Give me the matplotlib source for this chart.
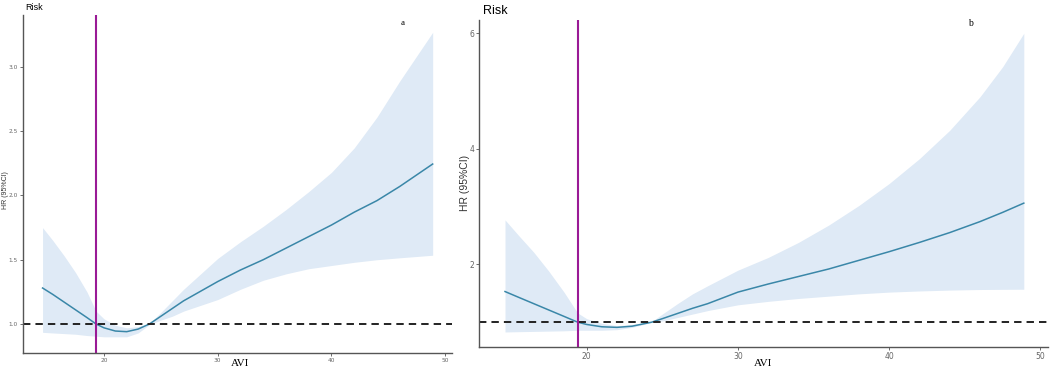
import matplotlib
matplotlib.use("Agg")
import matplotlib.pyplot as plt

# ---------------- data ----------------
avi_a = [14.6, 15.5, 16.5, 17.5, 18.5, 19.3, 20, 21, 22, 23, 24, 25, 26, 27, 28,
         30, 32, 34, 36, 38, 40, 42, 44, 46, 48.9]
hr_a = [1.28, 1.23, 1.17, 1.11, 1.05, 1.00, 0.97, 0.945, 0.94, 0.96, 1.00, 1.06, 1.12,
        1.18, 1.23, 1.33, 1.42, 1.50, 1.59, 1.68, 1.77, 1.87, 1.96, 2.07, 2.245]
upper_a = [1.75, 1.65, 1.53, 1.40, 1.25, 1.10, 1.04, 0.99, 0.97, 0.98, 1.005, 1.09, 1.18,
           1.27, 1.35, 1.51, 1.64, 1.76, 1.89, 2.03, 2.18, 2.37, 2.61, 2.89, 3.27]
lower_a = [0.935, 0.93, 0.925, 0.92, 0.91, 0.905, 0.90, 0.90, 0.90, 0.93, 0.995, 1.03,
           1.06, 1.10, 1.13, 1.19, 1.27, 1.34, 1.39, 1.43, 1.455, 1.48, 1.50, 1.515, 1.535]

avi_b = [14.6, 15.5, 16.5, 17.5, 18.5, 19.4, 20, 21, 22, 23, 24.3, 25, 26, 27, 28,
         30, 32, 34, 36, 38, 40, 42, 44, 46, 47.5, 48.9]
hr_b = [1.53, 1.43, 1.32, 1.21, 1.10, 1.00, 0.96, 0.92, 0.91, 0.93, 1.00, 1.06, 1.15,
        1.24, 1.32, 1.52, 1.66, 1.79, 1.92, 2.07, 2.22, 2.38, 2.55, 2.74, 2.90, 3.06]
upper_b = [2.77, 2.50, 2.21, 1.88, 1.52, 1.16, 1.06, 0.98, 0.94, 0.96, 1.01, 1.14, 1.32,
           1.49, 1.63, 1.90, 2.12, 2.38, 2.68, 3.02, 3.40, 3.83, 4.32, 4.90, 5.42, 6.00]
lower_b = [0.83, 0.835, 0.84, 0.845, 0.85, 0.86, 0.86, 0.86, 0.87, 0.91, 0.995, 1.02,
           1.08, 1.14, 1.20, 1.30, 1.36, 1.41, 1.45, 1.49, 1.52, 1.54, 1.555, 1.565,
           1.568, 1.57]

cutoff_a = 19.3
cutoff_b = 19.4
ref_hr = 1.0

xticks = [20, 30, 40, 50]
yticks_a = [1.0, 1.5, 2.0, 2.5, 3.0]
yticks_b = [2, 4, 6]

# ---------------- styling ----------------
W, H = 1053, 370
fig = plt.figure(figsize=(W / 100, H / 100), dpi=100)
fig.patch.set_facecolor("white")

band_col = "#dfeaf6"
line_col = "#3a87a8"
purple = "#9a1a96"
spine_col = "#555555"


def px_axes(l, r, t, b):
    return [l / W, 1 - b / H, (r - l) / W, (b - t) / H]


def style(ax, ticksize, xt, yt):
    for s in ["top", "right"]:
        ax.spines[s].set_visible(False)
    for s in ["left", "bottom"]:
        ax.spines[s].set_color(spine_col)
        ax.spines[s].set_linewidth(1.0)
    ax.set_xticks(xt)
    ax.set_yticks(yt)
    ax.tick_params(axis="both", labelsize=ticksize, colors="#555555",
                   length=2, width=0.6, pad=1.5, labelcolor="#666666")


# Panel a
ax1 = fig.add_axes(px_axes(23, 452, 15, 353))
ax1.fill_between(avi_a, lower_a, upper_a, color=band_col, linewidth=0)
ax1.plot(avi_a, hr_a, color=line_col, lw=1.1)
ax1.axhline(ref_hr, color="#222222", lw=1.4, ls=(0, (3.8, 2.6)))
ax1.axvline(cutoff_a, color=purple, lw=1.5)
ax1.set_xlim(12.88, 50.6)
ax1.set_ylim(0.774, 3.405)
style(ax1, 4.2, xticks, yticks_a)
ax1.set_yticklabels(["1.0", "1.5", "2.0", "2.5", "3.0"])

# Panel b
ax2 = fig.add_axes(px_axes(479, 1048, 20, 347))
ax2.fill_between(avi_b, lower_b, upper_b, color=band_col, linewidth=0)
ax2.plot(avi_b, hr_b, color=line_col, lw=1.1)
ax2.axhline(ref_hr, color="#222222", lw=1.4, ls=(0, (3.8, 2.6)))
ax2.axvline(cutoff_b, color=purple, lw=1.5)
ax2.set_xlim(12.88, 50.5)
ax2.set_ylim(0.57, 6.23)
style(ax2, 5.5, xticks, yticks_b)

# texts
def ftxt(x, y, s, **kw):
    fig.text(x / W, 1 - y / H, s, **kw)

ftxt(25, 8, "Risk", fontsize=6.5, ha="left", va="center", family="Liberation Sans")
ftxt(483, 11, "Risk", fontsize=9, ha="left", va="center", family="Liberation Sans")
ftxt(403, 23, "a", fontsize=6.5, ha="center", va="center", family="Liberation Serif")
ftxt(970, 23, "b", fontsize=7, ha="center", va="center", family="Liberation Serif")
ftxt(240, 363, "AVI", fontsize=8, ha="center", va="center", family="Liberation Serif")
ftxt(763, 363, "AVI", fontsize=8, ha="center", va="center", family="Liberation Serif")
ftxt(6, 190, "HR (95%CI)", fontsize=5.0, ha="center", va="center", rotation=90,
     family="Liberation Sans", color="#333333")
ftxt(465, 183, "HR (95%CI)", fontsize=7.5, ha="center", va="center", rotation=90,
     family="Liberation Sans", color="#333333")

fig.savefig("out.png", dpi=100, facecolor="white")
